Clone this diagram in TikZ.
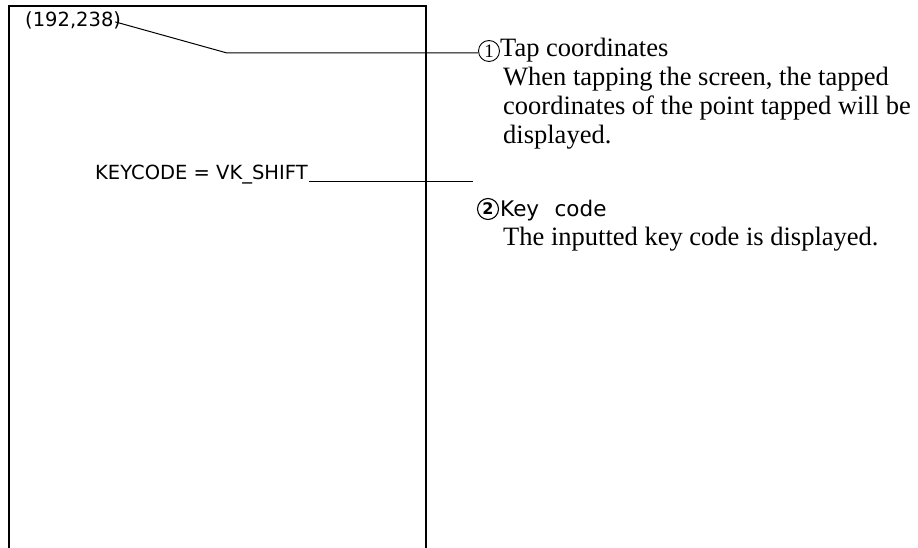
\documentclass[tikz,border=0pt]{standalone}
\usepackage{fontspec}
\setmainfont{Liberation Serif}
\newfontfamily\scrfont{DejaVu Sans}
\begin{document}
\begin{tikzpicture}[x=1pt,y=-1pt,
  screentext/.style={font=\scrfont\fontsize{19.5}{22}\selectfont, inner sep=0pt, anchor=base west},
  bodytext/.style={font=\fontsize{26.5}{29}\selectfont, inner sep=0pt, anchor=base west},
  headsans/.style={font=\scrfont\fontsize{21.5}{24}\selectfont, inner sep=0pt, anchor=base west},
  numcircle/.style={draw, circle, line width=0.9pt, minimum size=21pt, inner sep=0pt},
  leader/.style={draw, line width=1pt},
  frame/.style={draw, line width=1.4pt}]
\useasboundingbox (0,0) rectangle (918,548);
% screen frame (open at bottom)
\draw[frame] (9,548) -- (9,6) -- (426,6) -- (426,548);
% screen texts
\node[screentext] (tap) at (25,27) {(192,238)};
\node[screentext] (key) at (95,180) {KEYCODE = VK\_SHIFT};
% callout 1
\node[numcircle, font=\fontsize{19}{19}\selectfont] (c1) at (489,51) {1};
\node[bodytext] (h1) at (500,57) {Tap coordinates};
\node[bodytext] (l11) at (503,86) {When tapping the screen, the tapped};
\node[bodytext] (l12) at (503,115) {coordinates of the point tapped will be};
\node[bodytext] (l13) at (503,144) {displayed.};
% callout 2
\node[numcircle, line width=1.1pt, font=\scrfont\bfseries\fontsize{16}{16}\selectfont] (c2) at (488,209) {2};
\node[headsans] (h2) at (500,217) {Key\hspace{0.4em} code};
\node[bodytext] (l21) at (503,245) {The inputted key code is displayed.};
% leaders
\coordinate (k1) at (227,53);
\coordinate (e2) at (473,182);
\draw[leader] ([xshift=-6pt,yshift=-1pt]tap.east) -- (k1) -- (k1 -| c1.west);
\draw[leader] ([xshift=1pt,yshift=-2pt]key.base east) -- (e2);
\end{tikzpicture}
\end{document}
